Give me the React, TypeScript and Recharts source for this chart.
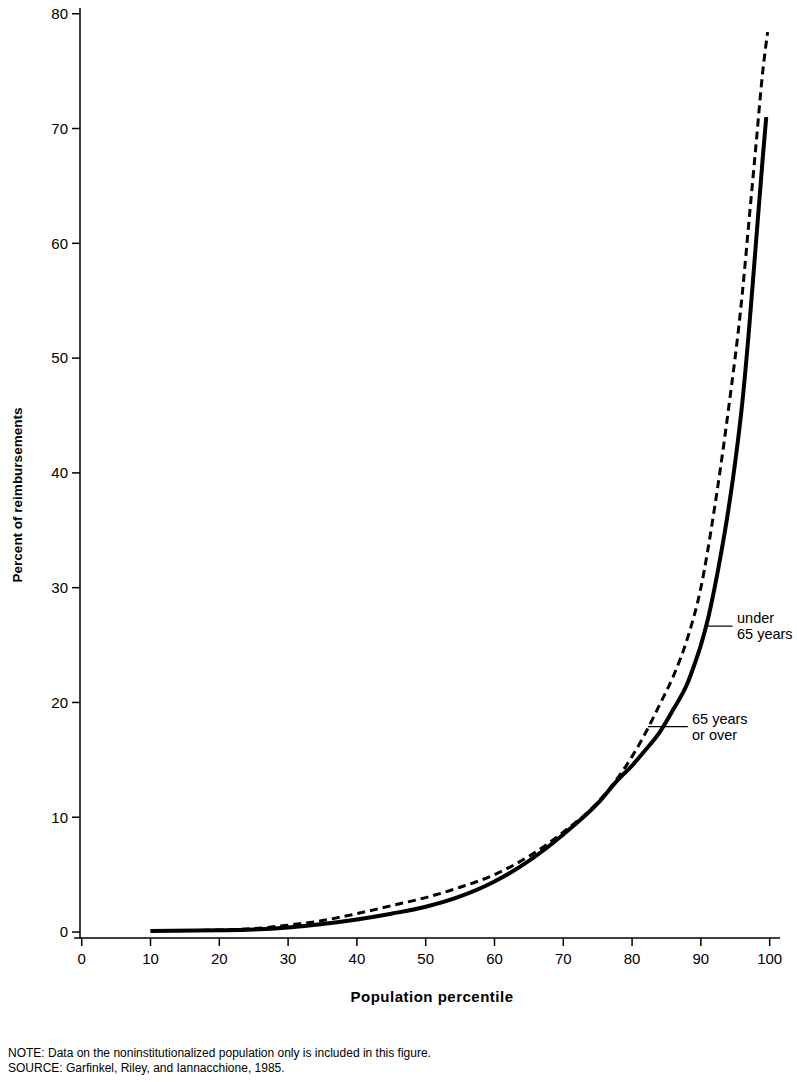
import React from "react"
import { LineChart, Line, XAxis, YAxis, ReferenceLine } from "recharts"

// under 65 years (solid)
const under65X = [10, 20, 25, 30, 35, 40, 45, 50, 55, 60, 65, 70, 75, 78, 80, 82, 84, 86, 88, 89, 90, 91, 92, 93, 94, 95, 96, 97, 98, 99, 99.5]
const under65Y = [0.1, 0.15, 0.22, 0.4, 0.7, 1.1, 1.6, 2.2, 3.1, 4.4, 6.2, 8.5, 11.2, 13.3, 14.5, 15.9, 17.4, 19.4, 21.6, 23.2, 25.0, 27.2, 30.0, 33.2, 36.8, 41.0, 46.0, 52.5, 60.0, 67.5, 71.0]

// 65 years or over (dashed)
const over65X = [10, 20, 25, 30, 35, 40, 45, 50, 55, 60, 65, 70, 75, 78, 80, 82, 84, 86, 88, 90, 92, 94, 96, 97, 98, 99, 99.7]
const over65Y = [0.1, 0.18, 0.3, 0.6, 1.0, 1.6, 2.3, 3.0, 3.9, 5.0, 6.6, 8.7, 11.3, 13.5, 15.3, 17.4, 19.8, 22.3, 25.5, 30.0, 37.0, 45.5, 55.5, 62.0, 68.5, 75.0, 78.4]

const xTicks = [0, 10, 20, 30, 40, 50, 60, 70, 80, 90, 100]
const yTicks = [0, 10, 20, 30, 40, 50, 60, 70, 80]

const under65 = under65X.map((x, i) => ({ x, y: under65Y[i] }))
const over65 = over65X.map((x, i) => ({ x, y: over65Y[i] }))

const font = "'Liberation Sans', Arial, Helvetica, sans-serif"
const tickStyle = { fontSize: 15, fill: "#000", fontFamily: font }

const App = () => {
  return (
    <div style={{ position: "absolute", left: 0, top: 0, width: 797, height: 1082, background: "#fff", fontFamily: font, color: "#000" }}>
      <LineChart width={797} height={1020} margin={{ top: 8, right: 17, left: 20, bottom: 52 }}>
        <XAxis
          type="number"
          dataKey="x"
          domain={[-0.25, 101.5]}
          ticks={xTicks}
          allowDataOverflow
          tickSize={8}
          tickMargin={7}
          tick={tickStyle}
          axisLine={{ stroke: "#000", strokeWidth: 1.5 }}
          tickLine={{ stroke: "#000", strokeWidth: 1.5 }}
        />
        <YAxis
          type="number"
          dataKey="y"
          domain={[-0.52, 80.5]}
          ticks={yTicks}
          allowDataOverflow
          tickSize={8}
          tickMargin={4}
          tick={tickStyle}
          axisLine={{ stroke: "#000", strokeWidth: 1.5 }}
          tickLine={{ stroke: "#000", strokeWidth: 1.5 }}
        />
        <ReferenceLine segment={[{ x: -1.1, y: -0.52 }, { x: 0, y: -0.52 }]} stroke="#000" strokeWidth={1.5} ifOverflow="visible" />
        <Line data={over65} dataKey="y" type="monotone" stroke="#000" strokeWidth={3} strokeDasharray="8 5" dot={false} isAnimationActive={false} />
        <Line data={under65} dataKey="y" type="monotone" stroke="#000" strokeWidth={4} dot={false} isAnimationActive={false} />
        <ReferenceLine segment={[{ x: 90.9, y: 26.65 }, { x: 94.6, y: 26.65 }]} stroke="#000" strokeWidth={1.2} />
        <ReferenceLine segment={[{ x: 82.3, y: 17.9 }, { x: 88.1, y: 17.9 }]} stroke="#000" strokeWidth={1.2} />
      </LineChart>

      <div style={{ position: "absolute", left: 737, top: 610, fontSize: 14.5, lineHeight: "16px" }}>
        under<br />65 years
      </div>
      <div style={{ position: "absolute", left: 692, top: 711, fontSize: 14.5, lineHeight: "16px" }}>
        65 years<br />or over
      </div>

      <div style={{ position: "absolute", left: 0, width: 864, top: 988, textAlign: "center", fontSize: 15, fontWeight: "bold", letterSpacing: 0.5 }}>
        Population percentile
      </div>
      <div style={{ position: "absolute", left: 17, top: 495, width: 0, height: 0 }}>
        <div style={{ position: "absolute", transform: "translate(-50%, -50%) rotate(-90deg)", whiteSpace: "nowrap", fontSize: 13.5, fontWeight: "bold" }}>
          Percent of reimbursements
        </div>
      </div>

      <div style={{ position: "absolute", left: 8, top: 1046, fontSize: 12, lineHeight: "15px" }}>
        NOTE: Data on the noninstitutionalized population only is included in this figure.
        <br />
        SOURCE: Garfinkel, Riley, and Iannacchione, 1985.
      </div>
    </div>
  )
}

export default App
